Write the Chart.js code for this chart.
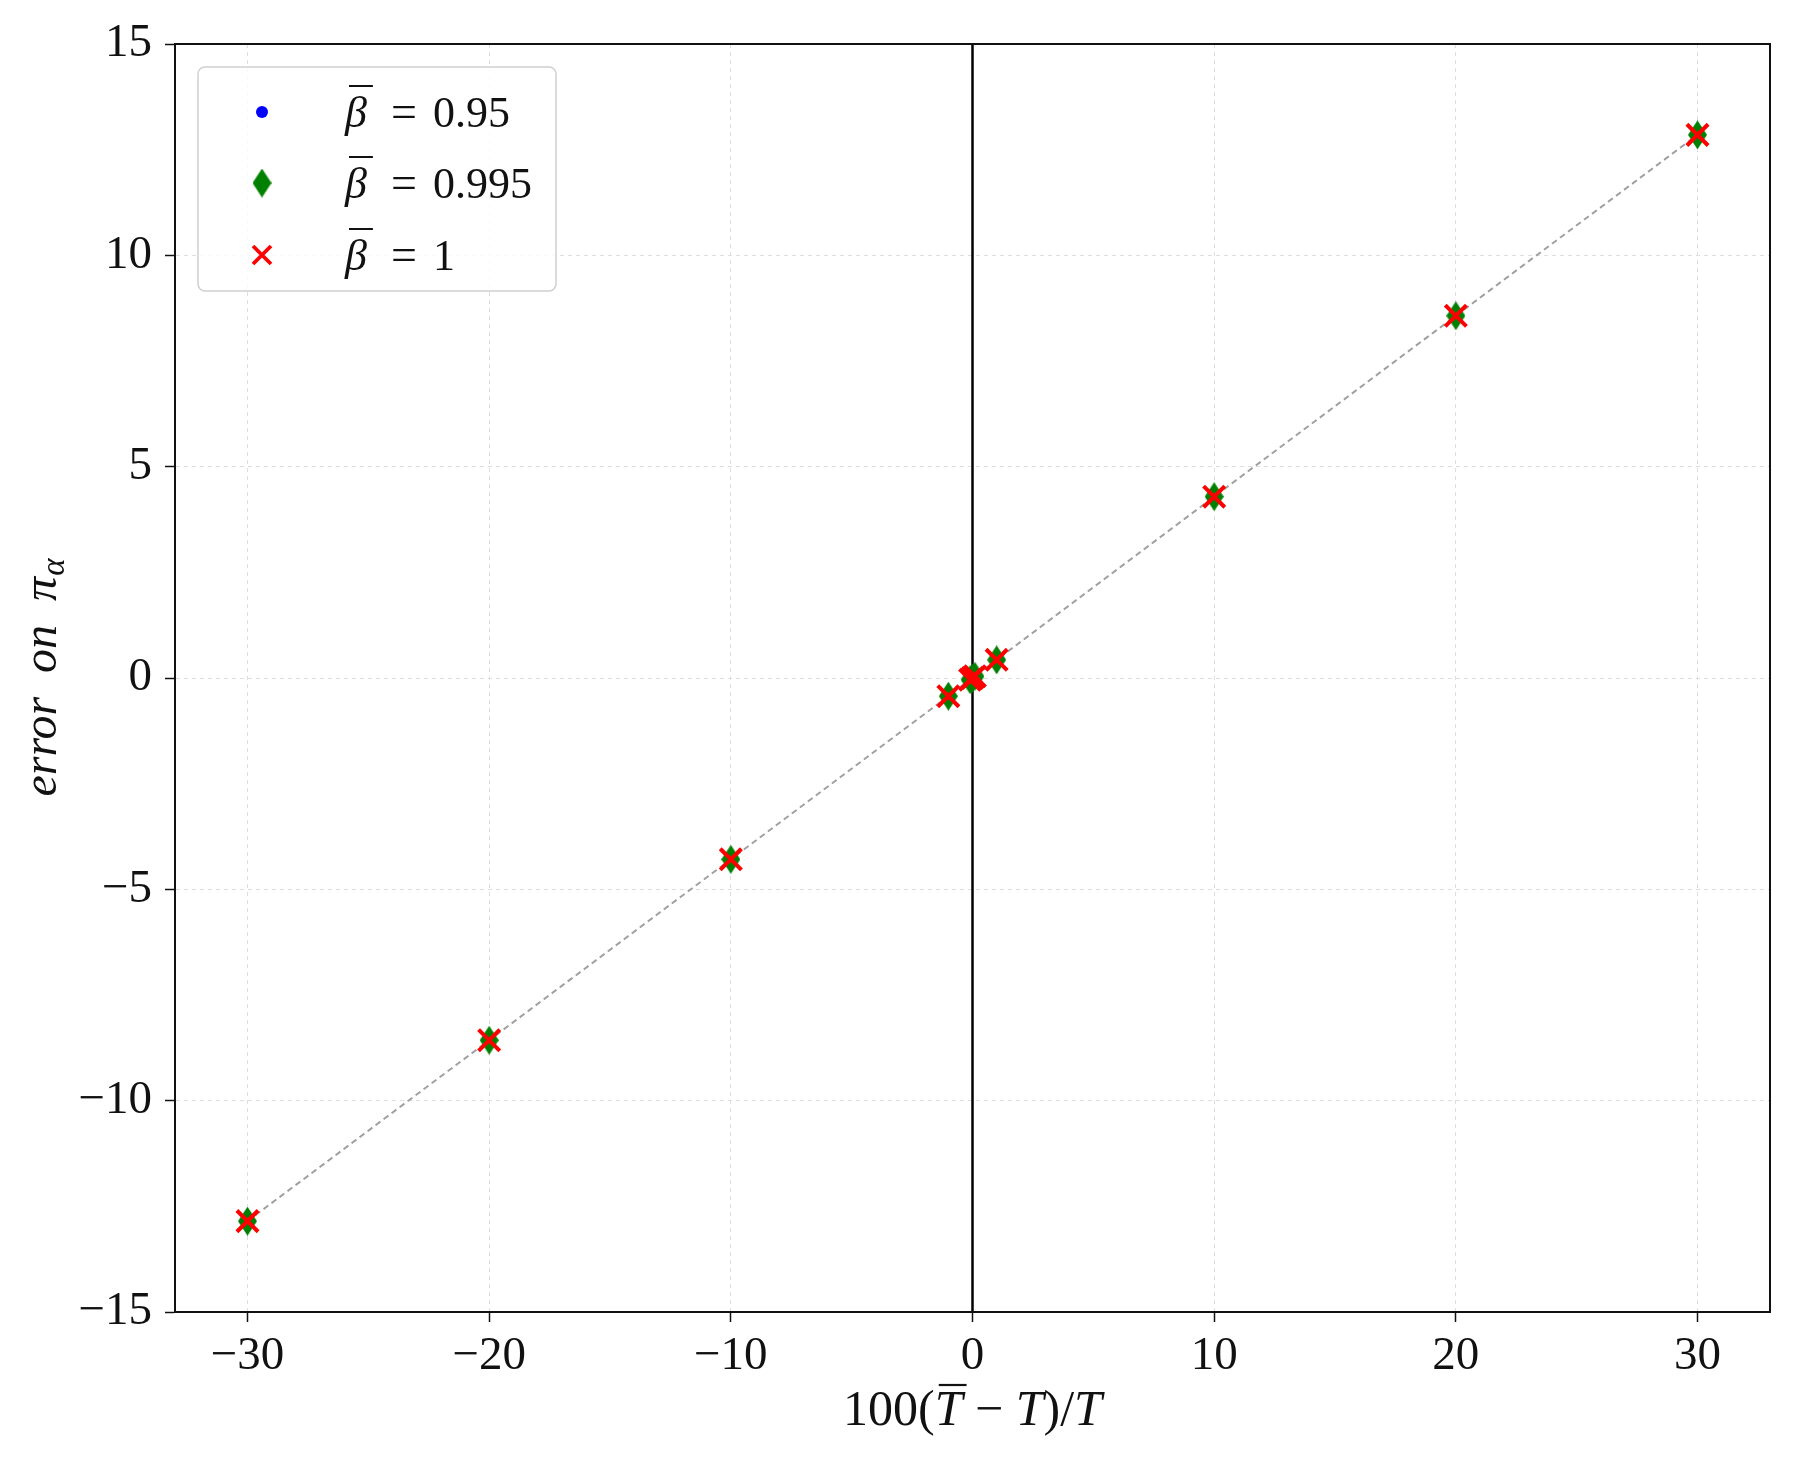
<!DOCTYPE html>
<html>
<head>
<meta charset="utf-8">
<script src="https://cdn.jsdelivr.net/npm/chart.js@4/dist/chart.umd.min.js"></script>
<style>
  html, body { margin: 0; padding: 0; background: #fff; }
  #wrap { width: 1799px; height: 1459px; }
</style>
</head>
<body>
<div id="wrap"><canvas id="errChart"></canvas></div>
<script>
// x values: relative deviation 100(Tbar - T)/T
const deviation = [-30, -20, -10, -1, -0.1, 0, 0.1, 1, 10, 20, 30];
// error on pi_alpha for each beta-bar
const errBeta095 = [-12.85, -8.57, -4.29, -0.43, -0.04, 0, 0.04, 0.43, 4.29, 8.57, 12.85];
const errBeta0995 = [-12.85, -8.57, -4.29, -0.43, -0.04, 0, 0.04, 0.43, 4.29, 8.57, 12.85];
const errBeta1 = [-12.85, -8.57, -4.29, -0.43, -0.04, 0, 0.04, 0.43, 4.29, 8.57, 12.85];
const betaLabels = ["0.95", "0.995", "1"];
const xTicks = [-30, -20, -10, 0, 10, 20, 30];
const yTicks = [-15, -10, -5, 0, 5, 10, 15];

const SERIF = "'Liberation Serif', 'DejaVu Serif', serif";
const toPoints = (ys) => deviation.map((x, i) => ({ x: x, y: ys[i] }));
const fmtTick = (v) => (v < 0 ? "\u2212" + Math.abs(v) : String(v));

// thin diamond marker like matplotlib 'd'
function makeDiamond(w, h, color) {
  const c = document.createElement("canvas");
  c.width = w;
  c.height = h;
  const g = c.getContext("2d");
  g.fillStyle = color;
  g.beginPath();
  g.moveTo(w / 2, 0);
  g.lineTo(w, h / 2);
  g.lineTo(w / 2, h);
  g.lineTo(0, h / 2);
  g.closePath();
  g.fill();
  return c;
}
const diamond = makeDiamond(19, 29, "#008000");

const xSpan = xTicks[xTicks.length - 1] - xTicks[0];
const xMin = xTicks[0] - 0.05 * xSpan;
const xMax = xTicks[xTicks.length - 1] + 0.05 * xSpan;

// box around the plot area
const frame = {
  id: "frame",
  afterDatasetsDraw(chart) {
    const { ctx, chartArea: a } = chart;
    ctx.save();
    ctx.strokeStyle = "#111";
    ctx.lineWidth = 2;
    ctx.strokeRect(a.left, a.top, a.right - a.left, a.bottom - a.top);
    ctx.restore();
  },
};

// axis titles with overline / subscript
const axisTitles = {
  id: "axisTitles",
  afterDraw(chart) {
    const { ctx, chartArea: a } = chart;
    ctx.save();
    ctx.fillStyle = "#111";
    ctx.strokeStyle = "#111";
    ctx.textBaseline = "alphabetic";
    const fs = 50;
    const up = fs + "px " + SERIF;
    const it = "italic " + fs + "px " + SERIF;

    // x title: 100(T̄ − T)/T
    const pieces = [
      ["100(", up, false],
      ["T", it, true],
      [" \u2212 ", up, false],
      ["T", it, false],
      [")/", up, false],
      ["T", it, false],
    ];
    let total = 0;
    pieces.forEach((p) => { ctx.font = p[1]; p.push(ctx.measureText(p[0]).width); total += p[3]; });
    let x = (a.left + a.right) / 2 - total / 2;
    const base = 1425;
    pieces.forEach((p) => {
      ctx.font = p[1];
      ctx.fillText(p[0], x, base);
      if (p[2]) {
        ctx.lineWidth = 2.2;
        ctx.beginPath();
        ctx.moveTo(x + 4, base - 40);
        ctx.lineTo(x + p[3] + 4, base - 40);
        ctx.stroke();
      }
      x += p[3];
    });

    // y title: error on π_α
    const yfs = 48;
    ctx.translate(56, (a.top + a.bottom) / 2);
    ctx.rotate(-Math.PI / 2);
    ctx.font = "italic " + yfs + "px " + SERIF;
    const main = "error  on  \u03c0";
    const wMain = ctx.measureText(main).width;
    ctx.font = "italic 33px " + SERIF;
    const wSub = ctx.measureText("\u03b1").width;
    const start = -(wMain + wSub) / 2;
    ctx.font = "italic " + yfs + "px " + SERIF;
    ctx.fillText(main, start, 0);
    ctx.font = "italic 33px " + SERIF;
    ctx.fillText("\u03b1", start + wMain + 1, 8);
    ctx.restore();
  },
};

// legend box in the upper left corner of the plot
const legendBox = {
  id: "legendBox",
  afterDraw(chart) {
    const { ctx } = chart;
    const bx = 198, by = 67, bw = 358, bh = 224, r = 7;
    ctx.save();
    ctx.beginPath();
    ctx.moveTo(bx + r, by);
    ctx.arcTo(bx + bw, by, bx + bw, by + bh, r);
    ctx.arcTo(bx + bw, by + bh, bx, by + bh, r);
    ctx.arcTo(bx, by + bh, bx, by, r);
    ctx.arcTo(bx, by, bx + bw, by, r);
    ctx.closePath();
    ctx.fillStyle = "rgba(255,255,255,0.85)";
    ctx.fill();
    ctx.strokeStyle = "#d0d0d0";
    ctx.lineWidth = 1.5;
    ctx.stroke();

    const rows = [112, 183, 255];
    const mx = 262;
    // markers
    ctx.fillStyle = "#0000ff";
    ctx.beginPath();
    ctx.arc(mx, rows[0], 6, 0, Math.PI * 2);
    ctx.fill();
    ctx.drawImage(diamond, mx - diamond.width / 2, rows[1] - diamond.height / 2);
    ctx.strokeStyle = "#ff0000";
    ctx.lineWidth = 3.8;
    ctx.beginPath();
    ctx.moveTo(mx - 9, rows[2] - 9);
    ctx.lineTo(mx + 9, rows[2] + 9);
    ctx.moveTo(mx + 9, rows[2] - 9);
    ctx.lineTo(mx - 9, rows[2] + 9);
    ctx.stroke();

    // labels
    ctx.fillStyle = "#111";
    ctx.strokeStyle = "#111";
    ctx.textBaseline = "alphabetic";
    betaLabels.forEach((lab, i) => {
      const y = rows[i] + 15;
      ctx.font = "italic 44px " + SERIF;
      ctx.fillText("\u03b2", 345, y);
      const wb = ctx.measureText("\u03b2").width;
      ctx.lineWidth = 2;
      ctx.beginPath();
      ctx.moveTo(349, rows[i] - 26);
      ctx.lineTo(349 + wb + 2, rows[i] - 26);
      ctx.stroke();
      ctx.font = "46px " + SERIF;
      ctx.textAlign = "center";
      ctx.fillText("=", 404, y);
      ctx.font = "44px " + SERIF;
      ctx.textAlign = "left";
      ctx.fillText(lab, 433, y);
    });
    ctx.restore();
  },
};

const tickFont = { family: SERIF, size: 47 };

const ctx = document.getElementById("errChart").getContext("2d");
new Chart(ctx, {
  type: "scatter",
  data: {
    datasets: [
      {
        label: "beta 1",
        data: toPoints(errBeta1),
        pointStyle: "crossRot",
        pointRadius: 15,
        pointBorderWidth: 4,
        borderColor: "#ff0000",
        backgroundColor: "#ff0000",
        order: 0,
      },
      {
        label: "beta 0.995",
        data: toPoints(errBeta0995),
        pointStyle: diamond,
        pointRadius: 14,
        order: 1,
      },
      {
        label: "beta 0.95",
        data: toPoints(errBeta095),
        pointStyle: "circle",
        pointRadius: 6,
        pointBorderWidth: 0,
        backgroundColor: "#0000ff",
        borderColor: "#0000ff",
        order: 2,
      },
      {
        type: "line",
        label: "trend",
        data: toPoints(errBeta1),
        showLine: true,
        borderColor: "#a0a0a0",
        borderWidth: 2,
        borderDash: [6, 4],
        pointRadius: 0,
        fill: false,
        order: 3,
      },
      {
        type: "line",
        label: "zero",
        data: [{ x: 0, y: yTicks[0] }, { x: 0, y: yTicks[yTicks.length - 1] }],
        showLine: true,
        borderColor: "#000",
        borderWidth: 2.5,
        pointRadius: 0,
        fill: false,
        order: 4,
      },
    ],
  },
  options: {
    responsive: true,
    maintainAspectRatio: false,
    animation: false,
    layout: { padding: { top: 44, right: 29, left: 0, bottom: 0 } },
    plugins: {
      legend: { display: false },
      tooltip: { enabled: false },
    },
    scales: {
      x: {
        type: "linear",
        min: xMin,
        max: xMax,
        afterBuildTicks: (s) => { s.ticks = xTicks.map((v) => ({ value: v })); },
        afterFit: (s) => { s.height = 147; },
        ticks: { font: tickFont, color: "#111", padding: 6, callback: fmtTick, maxRotation: 0 },
        grid: {
          color: "#dedede",
          lineWidth: 1,
          tickLength: 10,
          tickColor: "#111",
          tickWidth: 1.5,
          tickBorderDash: [],
        },
        border: { display: true, color: "#111", width: 2, dash: [4, 4] },
      },
      y: {
        type: "linear",
        min: yTicks[0],
        max: yTicks[yTicks.length - 1],
        afterBuildTicks: (s) => { s.ticks = yTicks.map((v) => ({ value: v })); },
        afterFit: (s) => { s.width = 175; },
        ticks: { font: tickFont, color: "#111", padding: 13, callback: fmtTick },
        grid: {
          color: "#dedede",
          lineWidth: 1,
          tickLength: 10,
          tickColor: "#111",
          tickWidth: 1.5,
          tickBorderDash: [],
        },
        border: { display: true, color: "#111", width: 2, dash: [4, 4] },
      },
    },
  },
  plugins: [frame, axisTitles, legendBox],
});
</script>
</body>
</html>
